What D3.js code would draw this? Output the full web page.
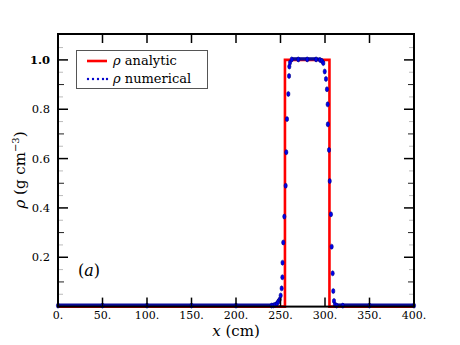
<!DOCTYPE html>
<html>
<head>
<meta charset="utf-8">
<script src="https://cdn.jsdelivr.net/npm/d3@7"></script>
<style>
  body { margin: 0; background: #fff; }
  text { font-family: "DejaVu Serif", serif; fill: #000; }
</style>
</head>
<body>
<div id="chart"></div>
<script>
// analytic step profile
var anaX = [0, 255, 255, 305, 305, 400];
var anaY = [0, 0, 1, 1, 0, 0];

// numerical profile
var numX = [0, 50, 100, 150, 200, 240, 242, 244, 246, 247.5, 249.1, 250.2, 251.3, 252.1, 252.3, 253.1,
            254.3, 255.8, 256.5, 257.3, 258.8, 259.6, 259.9, 260.7, 262.6, 270, 280, 290, 294.4, 296.5,
            298.1, 299.7, 301.1, 302.2, 303.0, 303.2, 304.5, 305.3, 306.7, 307.5, 308.6, 309.3, 310.1,
            311.2, 313, 320, 350, 400];
var numY = [0.004, 0.004, 0.004, 0.004, 0.004, 0.004, 0.005, 0.007, 0.012, 0.02, 0.029, 0.045, 0.074, 0.119, 0.178, 0.26,
            0.365, 0.49, 0.626, 0.76, 0.862, 0.935, 0.973, 0.989, 1.002, 1.002, 1.002, 1.002, 1.0, 0.996,
            0.987, 0.953, 0.923, 0.881, 0.82, 0.739, 0.635, 0.509, 0.374, 0.243, 0.135, 0.063, 0.023,
            0.008, 0.004, 0.004, 0.004, 0.004];

var xTicks = [0, 50, 100, 150, 200, 250, 300, 350, 400];
var yTicks = [0.2, 0.4, 0.6, 0.8, 1.0];
var yMinor = [0.05, 0.1, 0.15, 0.25, 0.3, 0.35, 0.45, 0.5, 0.55, 0.65, 0.7, 0.75, 0.85, 0.9, 0.95, 1.05];

var W = 460, H = 345;
var pLeft = 58, pRight = 414, pTop = 34, pBottom = 306.6;

var svg = d3.select('#chart').append('svg')
  .attr('width', W).attr('height', H);

var x = d3.scaleLinear().domain([0, 400]).range([pLeft, pRight]);
var y = d3.scaleLinear().domain([0, 1.105]).range([pBottom, pTop]);

// analytic (red)
var ana = anaX.map(function (d, i) { return [d, anaY[i]]; });
svg.append('path')
  .datum(ana)
  .attr('d', d3.line().x(function (d) { return x(d[0]); }).y(function (d) { return y(d[1]); }))
  .attr('fill', 'none')
  .attr('stroke', '#ff0000')
  .attr('stroke-width', 2.6);

// numerical (blue, dotted): flat runs merge into a thick line, steep parts stay dots
var num = numX.map(function (d, i) { return [d, numY[i]]; });
var segs = [];
for (var i = 1; i < num.length; i++) {
  if (Math.abs(y(num[i][1]) - y(num[i - 1][1])) < 2.5) segs.push([num[i - 1], num[i]]);
}
svg.selectAll('.numseg')
  .data(segs)
  .enter()
  .append('line')
  .attr('class', 'numseg')
  .attr('x1', function (d) { return x(d[0][0]); })
  .attr('y1', function (d) { return y(d[0][1]) - 0.5; })
  .attr('x2', function (d) { return x(d[1][0]); })
  .attr('y2', function (d) { return y(d[1][1]) - 0.5; })
  .attr('stroke', '#0a0a98')
  .attr('stroke-width', 3.4);

svg.selectAll('.numdot')
  .data(num)
  .enter()
  .append('ellipse')
  .attr('class', 'numdot')
  .attr('cx', function (d) { return x(d[0]); })
  .attr('cy', function (d) { return y(d[1]); })
  .attr('rx', 1.6)
  .attr('ry', 2.5)
  .attr('fill', '#0000ee')
  .attr('stroke', '#000080')
  .attr('stroke-width', 0.6);

// ticks (inward, all four sides)
var tk = svg.append('g').attr('stroke', '#000');
xTicks.slice(1, -1).forEach(function (t) {
  tk.append('line').attr('x1', x(t)).attr('x2', x(t)).attr('y1', pBottom).attr('y2', pBottom - 9).attr('stroke-width', 1.5);
  tk.append('line').attr('x1', x(t)).attr('x2', x(t)).attr('y1', pTop).attr('y2', pTop + 9).attr('stroke-width', 1.5);
});
yTicks.forEach(function (t) {
  tk.append('line').attr('x1', pLeft).attr('x2', pLeft + 10).attr('y1', y(t)).attr('y2', y(t)).attr('stroke-width', 1.5);
  tk.append('line').attr('x1', pRight).attr('x2', pRight - 10).attr('y1', y(t)).attr('y2', y(t)).attr('stroke-width', 1.5);
});
yMinor.forEach(function (t) {
  var strong = Math.abs(t * 10 - Math.round(t * 10)) < 1e-6;
  var len = strong ? 6 : 5;
  var col = strong ? '#222' : '#bbb';
  tk.append('line').attr('x1', pLeft).attr('x2', pLeft + len).attr('y1', y(t)).attr('y2', y(t)).attr('stroke', col).attr('stroke-width', 1);
  tk.append('line').attr('x1', pRight).attr('x2', pRight - len).attr('y1', y(t)).attr('y2', y(t)).attr('stroke', col).attr('stroke-width', 1);
});

// frame
svg.append('rect')
  .attr('x', pLeft).attr('y', pTop)
  .attr('width', pRight - pLeft).attr('height', pBottom - pTop)
  .attr('fill', 'none')
  .attr('stroke', '#000')
  .attr('stroke-width', 2);

// tick labels
svg.selectAll('.xl')
  .data(xTicks)
  .enter()
  .append('text')
  .attr('class', 'xl')
  .attr('x', function (d) { return x(d); })
  .attr('y', pBottom + 12)
  .attr('text-anchor', 'middle')
  .style('font-size', '11px')
  .text(function (d) { return d + '.'; });

svg.selectAll('.yl')
  .data(yTicks)
  .enter()
  .append('text')
  .attr('class', 'yl')
  .attr('x', pLeft - 8)
  .attr('y', function (d) { return y(d) + 4; })
  .attr('text-anchor', 'end')
  .style('font-size', '11.5px')
  .style('font-weight', function (d) { return d === 1 ? 'bold' : 'normal'; })
  .text(function (d) { return d.toFixed(1); });

// axis titles
var xt = svg.append('text')
  .attr('x', 236).attr('y', 336)
  .attr('text-anchor', 'middle')
  .style('font-size', '15px');
xt.append('tspan').style('font-style', 'italic').text('x');
xt.append('tspan').text('\u00a0(cm)');

var yt = svg.append('text')
  .attr('transform', 'translate(25,170) rotate(-90)')
  .attr('text-anchor', 'middle')
  .style('font-size', '15px');
yt.append('tspan').style('font-style', 'italic').text('\u03c1');
yt.append('tspan').text('\u00a0(g cm');
yt.append('tspan').attr('dy', -6).style('font-size', '10px').text('\u22123');
yt.append('tspan').attr('dy', 6).text(')');

// panel tag
var tag = svg.append('text')
  .attr('x', 78).attr('y', 276)
  .style('font-size', '16px');
tag.append('tspan').text('(');
tag.append('tspan').style('font-style', 'italic').text('a');
tag.append('tspan').text(')');

// legend
var lg = svg.append('g');
lg.append('rect')
  .attr('x', 76.5).attr('y', 50.5).attr('width', 131).attr('height', 38)
  .attr('fill', '#fff').attr('stroke', '#555').attr('stroke-width', 1);
lg.append('line')
  .attr('x1', 87).attr('x2', 107).attr('y1', 61).attr('y2', 61)
  .attr('stroke', '#ff0000').attr('stroke-width', 2.6);
lg.selectAll('.ld')
  .data([88, 93, 98, 103, 107])
  .enter()
  .append('circle')
  .attr('cx', function (d) { return d; })
  .attr('cy', 79)
  .attr('r', 1.2)
  .attr('fill', '#0000cc');
var l1 = lg.append('text').attr('x', 113).attr('y', 65).style('font-size', '13px');
l1.append('tspan').style('font-style', 'italic').text('\u03c1');
l1.append('tspan').text('\u00a0analytic');
var l2 = lg.append('text').attr('x', 113).attr('y', 83).style('font-size', '13px');
l2.append('tspan').style('font-style', 'italic').text('\u03c1');
l2.append('tspan').text('\u00a0numerical');
</script>
</body>
</html>
